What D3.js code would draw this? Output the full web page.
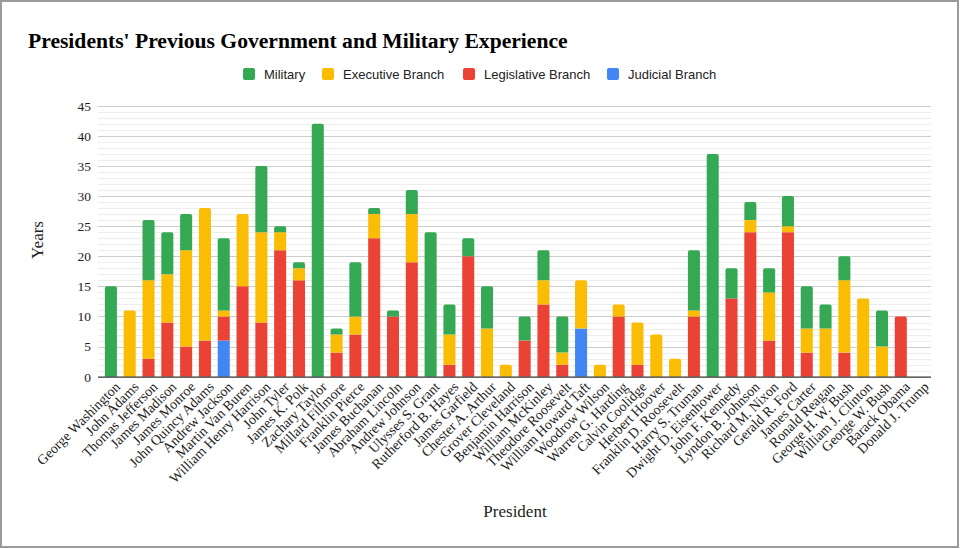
<!DOCTYPE html>
<html><head><meta charset="utf-8">
<script src="https://cdn.jsdelivr.net/npm/d3@7"></script>
<style>body{margin:0;background:#fff}svg{display:block}</style>
</head><body>
<svg id="c" width="960" height="549"></svg>
<script>
const presidents = ["George Washington","John Adams","Thomas Jefferson","James Madison","James Monroe","John Quincy Adams","Andrew Jackson","Martin Van Buren","William Henry Harrison","John Tyler","James K. Polk","Zachary Taylor","Millard Fillmore","Franklin Pierce","James Buchanan","Abraham Lincoln","Andrew Johnson","Ulysses S. Grant","Rutherford B. Hayes","James Garfield","Chester A. Arthur","Grover Cleveland","Benjamin Harrison","William McKinley","Theodore Roosevelt","William Howard Taft","Woodrow Wilson","Warren G. Harding","Calvin Coolidge","Herbert Hoover","Franklin D. Roosevelt","Harry S. Truman","Dwight D. Eisenhower","John F. Kennedy","Lyndon B. Johnson","Richard M. Nixon","Gerald R. Ford","James Carter","Ronald Reagan","George H. W. Bush","William J. Clinton","George W. Bush","Barack Obama","Donald J. Trump"];
const judicial    = [0,0,0,0,0,0,6,0,0,0,0,0,0,0,0,0,0,0,0,0,0,0,0,0,0,8,0,0,0,0,0,0,0,0,0,0,0,0,0,0,0,0,0,0];
const legislative = [0,0,3,9,5,6,4,15,9,21,16,0,4,7,23,10,19,0,2,20,0,0,6,12,2,0,0,10,2,0,0,10,0,13,24,6,24,4,0,4,0,0,10,0];
const executive   = [0,11,13,8,16,22,1,12,15,3,2,0,3,3,4,0,8,0,5,0,8,2,0,4,2,8,2,2,7,7,3,1,0,0,2,8,1,4,8,12,13,5,0,0];
const military    = [15,0,10,7,6,0,12,0,11,1,1,42,1,9,1,1,4,24,5,3,7,0,4,5,6,0,0,0,0,0,0,10,37,5,3,4,5,7,4,4,0,6,0,0];
const seriesNames = ["Military","Executive Branch","Legislative Branch","Judicial Branch"];
const yTicks = [0,5,10,15,20,25,30,35,40,45];

const colors = {"Military":"#34a853","Executive Branch":"#fbbc04","Legislative Branch":"#ea4335","Judicial Branch":"#4285f4"};
const stackOrder = ["Judicial Branch","Legislative Branch","Executive Branch","Military"];
const valuesBy = {"Judicial Branch":judicial,"Legislative Branch":legislative,"Executive Branch":executive,"Military":military};

const svg = d3.select("#c");
svg.append("rect").attr("x",1).attr("y",1).attr("width",957).attr("height",546)
  .attr("fill","#fff").attr("stroke","#9a9a9a").attr("stroke-width",2);

const L=98, R=931, T=105.7, B=376.7;
const x = d3.scaleBand().domain(presidents).range([101.5,929]).paddingInner(0.36).paddingOuter(0.18);
const y = d3.scaleLinear().domain([0,45]).range([B,T]);

const g = svg.append("g");
g.selectAll("line.minor").data(d3.range(0,46).filter(v=>v%5!==0)).join("line")
  .attr("x1",L).attr("x2",R).attr("y1",d=>Math.round(y(d))+0.5).attr("y2",d=>Math.round(y(d))+0.5)
  .attr("stroke","#ededed").attr("stroke-width",1);
g.selectAll("line.major").data(yTicks.filter(v=>v>0)).join("line")
  .attr("x1",L).attr("x2",R).attr("y1",d=>Math.round(y(d))+0.5).attr("y2",d=>Math.round(y(d))+0.5)
  .attr("stroke","#cccccc").attr("stroke-width",1);

const yAxis = d3.axisLeft(y).tickValues(yTicks).tickSize(0).tickPadding(7);
const ya = svg.append("g").attr("transform",`translate(${L},0)`).call(yAxis);
ya.select(".domain").remove();
ya.selectAll("text").attr("font-family","Liberation Serif, Times New Roman, serif").attr("font-size",13.5).attr("fill","#222");

const rows = presidents.map((p,i)=>{const o={president:p}; stackOrder.forEach(s=>o[s]=valuesBy[s][i]); return o;});
const stacked = d3.stack().keys(stackOrder)(rows);

const topKey = rows.map(r=>{let k=null; stackOrder.forEach(s=>{if(r[s]>0)k=s;}); return k;});

function segPath(x0,w,y0,y1,round){
  const r=Math.min(2,(y0-y1)/2,w/2);
  if(!round) return `M${x0},${y0}V${y1}H${x0+w}V${y0}Z`;
  return `M${x0},${y0}V${y1+r}Q${x0},${y1} ${x0+r},${y1}H${x0+w-r}Q${x0+w},${y1} ${x0+w},${y1+r}V${y0}Z`;
}

const bars = svg.append("g");
stacked.forEach(layer=>{
  bars.append("g").attr("fill",colors[layer.key]).selectAll("path").data(layer.filter(d=>d[1]-d[0]>0)).join("path")
    .attr("d",d=>{
      const i=presidents.indexOf(d.data.president);
      return segPath(x(d.data.president), x.bandwidth(), y(d[0]), y(d[1]), topKey[i]===layer.key);
    });
});

svg.append("line").attr("x1",L).attr("x2",R).attr("y1",B+0.5).attr("y2",B+0.5).attr("stroke","#333").attr("stroke-width",1.3);

const xAxis = d3.axisBottom(x).tickSize(0).tickPadding(0);
const xa = svg.append("g").attr("transform",`translate(0,${B})`).call(xAxis);
xa.select(".domain").remove();
xa.selectAll("text")
  .attr("font-family","Liberation Serif, Times New Roman, serif").attr("font-size",14).attr("fill","#222")
  .attr("text-anchor","end").attr("dy",null).attr("y",null)
  .attr("transform","translate(10,11) rotate(-45)");

svg.append("text").attr("x",28).attr("y",48).text("Presidents' Previous Government and Military Experience")
  .attr("font-family","Liberation Serif, Times New Roman, serif").attr("font-weight","bold").attr("font-size",21.6).attr("fill","#000");

svg.append("text").attr("x",515).attr("y",517).attr("text-anchor","middle").text("President")
  .attr("font-family","Liberation Serif, Times New Roman, serif").attr("font-size",17).attr("fill","#222");
svg.append("text").attr("transform","translate(43,240) rotate(-90)").attr("text-anchor","middle").text("Years")
  .attr("font-family","Liberation Serif, Times New Roman, serif").attr("font-size",17).attr("fill","#222");

const legX = [243,322,463,607];
const lg = svg.append("g");
seriesNames.forEach((s,i)=>{
  lg.append("rect").attr("x",legX[i]).attr("y",68).attr("width",12).attr("height",12).attr("rx",2).attr("fill",colors[s]);
  lg.append("text").attr("x",legX[i]+21).attr("y",79).text(s)
    .attr("font-family","Liberation Sans, Arial, sans-serif").attr("font-size",13).attr("fill","#222");
});
</script>
</body></html>
